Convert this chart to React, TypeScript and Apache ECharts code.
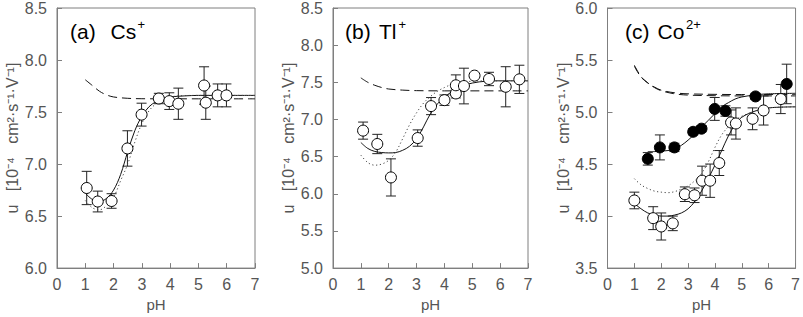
import React, { useEffect, useRef } from "react";
import * as echarts from "echarts";

// ---------- Panel (a) Cs+ ----------
const aPH = [1.05, 1.44, 1.93, 2.49, 2.99, 3.6, 3.97, 4.29, 5.2, 5.26, 5.68, 5.99];
const aU = [6.77, 6.64, 6.645, 7.15, 7.475, 7.63, 7.605, 7.58, 7.755, 7.59, 7.66, 7.66];
const aErr = [0.16, 0.1, 0.07, 0.17, 0.11, 0.05, 0.08, 0.15, 0.18, 0.16, 0.11, 0.11];
const aFitX = [1.0, 1.25, 1.5, 1.75, 2.0, 2.25, 2.5, 2.75, 3.0, 3.25, 3.5, 3.75, 4.0, 4.5, 5.0, 6.0, 7.0];
const aSolid = [6.72, 6.66, 6.64, 6.67, 6.75, 6.9, 7.12, 7.32, 7.46, 7.55, 7.6, 7.63, 7.645, 7.655, 7.66, 7.66, 7.66];
const aDotted = [6.65, 6.58, 6.56, 6.6, 6.68, 6.84, 7.0, 7.21, 7.39, 7.51, 7.58, 7.62, 7.645, 7.658, 7.66, 7.66, 7.66];
const aDashX = [1.0, 1.25, 1.5, 1.75, 2.0, 2.5, 3.0, 4.0, 5.0, 7.0];
const aDashed = [7.81, 7.755, 7.7, 7.665, 7.645, 7.632, 7.628, 7.627, 7.627, 7.627];

// ---------- Panel (b) Tl+ ----------
const bPH = [1.08, 1.59, 2.08, 3.04, 3.52, 4.0, 4.41, 4.41, 4.7, 5.08, 5.6, 6.2, 6.69];
const bU = [6.85, 6.67, 6.22, 6.75, 7.18, 7.26, 7.35, 7.46, 7.45, 7.59, 7.545, 7.44, 7.54];
const bErr = [0.115, 0.13, 0.25, 0.11, 0.115, 0.07, 0.06, 0.14, 0.24, 0.02, 0.09, 0.27, 0.19];
const bFitX = [1.0, 1.25, 1.5, 1.75, 2.0, 2.25, 2.5, 2.75, 3.0, 3.25, 3.5, 3.75, 4.0, 4.25, 4.5, 5.0, 5.5, 6.0, 7.0];
const bSolid = [6.69, 6.61, 6.57, 6.555, 6.55, 6.555, 6.585, 6.64, 6.74, 6.9, 7.08, 7.21, 7.3, 7.37, 7.43, 7.49, 7.515, 7.52, 7.52];
const bDotted = [6.52, 6.42, 6.385, 6.4, 6.45, 6.56, 6.74, 6.93, 7.09, 7.22, 7.31, 7.38, 7.43, 7.47, 7.495, 7.515, 7.52, 7.52, 7.52];
const bDashX = [1.0, 1.25, 1.5, 1.75, 2.0, 2.5, 3.0, 4.0, 7.0];
const bDashed = [7.56, 7.5, 7.46, 7.43, 7.41, 7.395, 7.388, 7.385, 7.385];

// ---------- Panel (c) Co2+ ----------
const cFilledPH = [1.5, 1.95, 2.49, 3.19, 3.5, 3.99, 4.39, 5.51, 6.67];
const cFilledU = [4.55, 4.66, 4.66, 4.81, 4.84, 5.03, 5.01, 5.15, 5.27];
const cFilledErr = [0.06, 0.12, 0.04, 0.03, 0.03, 0.11, 0.05, 0.03, 0.19];
const cOpenPH = [1.0, 1.7, 2.0, 2.43, 2.88, 3.24, 3.52, 3.82, 4.16, 4.6, 4.78, 5.4, 5.81, 6.45];
const cOpenU = [4.15, 3.98, 3.9, 3.93, 4.21, 4.2, 4.34, 4.34, 4.51, 4.9, 4.89, 4.935, 5.015, 5.125];
const cOpenErr = [0.08, 0.11, 0.13, 0.07, 0.07, 0.07, 0.14, 0.16, 0.12, 0.12, 0.15, 0.105, 0.14, 0.14];
const cFitX = [1.0, 1.25, 1.5, 1.75, 2.0, 2.25, 2.5, 2.75, 3.0, 3.25, 3.5, 3.75, 4.0, 4.25, 4.5, 4.75, 5.0, 5.5, 6.0, 7.0];
const cSolidLow = [4.12, 4.07, 4.03, 4.01, 4.0, 4.0, 4.01, 4.03, 4.07, 4.14, 4.24, 4.36, 4.49, 4.63, 4.77, 4.88, 4.95, 5.01, 5.04, 5.05];
const cDottedLow = [4.36, 4.3, 4.265, 4.24, 4.23, 4.225, 4.235, 4.26, 4.29, 4.34, 4.41, 4.52, 4.66, 4.78, 4.86, 4.92, 4.96, 5.01, 5.04, 5.05];
const cUpX = [1.5, 1.75, 2.0, 2.25, 2.5, 2.75, 3.0, 3.25, 3.5, 3.75, 4.0, 4.25, 4.5, 4.75, 5.0, 5.5, 6.0, 7.0];
const cSolidUp = [4.62, 4.62, 4.625, 4.63, 4.645, 4.68, 4.73, 4.79, 4.855, 4.92, 4.985, 5.05, 5.09, 5.125, 5.145, 5.165, 5.175, 5.18];
const cDashX = [1.0, 1.25, 1.5, 1.75, 2.0, 2.5, 3.0, 4.0, 5.0, 7.0];
const cDashed1 = [5.45, 5.34, 5.28, 5.235, 5.205, 5.175, 5.163, 5.157, 5.155, 5.155];
const cDashed2 = [5.44, 5.335, 5.28, 5.24, 5.21, 5.185, 5.175, 5.17, 5.168, 5.168];

// ---------- axes ----------
const xTicks = { min: 0, max: 7, interval: 1 };
const yRanges = [
  { min: 6.0, max: 8.5, interval: 0.5 },
  { min: 5.0, max: 8.5, interval: 0.5 },
  { min: 3.5, max: 6.0, interval: 0.5 },
];
const yName = "u   [10⁻⁴   cm²·s⁻¹·V⁻¹]";
const xName = "pH";
const titles = [
  { main: "(a)", ion: "Cs", sup: "+" },
  { main: "(b)", ion: "Tl", sup: "+" },
  { main: "(c)", ion: "Co", sup: "2+" },
];

const FONT = "'Liberation Sans', Arial, Helvetica, sans-serif";
const AXIS_COLOR = "#7f7f7f";
const LABEL_COLOR = "#555";

const pairs = (xs: number[], ys: number[]) => xs.map((x, i) => [x, ys[i]]);
const triples = (xs: number[], ys: number[], es: number[]) => xs.map((x, i) => [x, ys[i], es[i]]);

export default function App() {
  const ref = useRef<HTMLDivElement>(null);
  useEffect(() => {
    document.body.style.margin = "0";
    if (!ref.current) return;
    const chart = echarts.init(ref.current, undefined, { renderer: "svg" });

    const grids = [
      { left: 57, top: 7, width: 198, height: 268 },
      { left: 333, top: 7, width: 195, height: 268 },
      { left: 607.5, top: 7, width: 192.5, height: 268 },
    ].map((g) => ({ ...g, show: true, borderColor: AXIS_COLOR, borderWidth: 1, backgroundColor: "transparent" }));

    const xAxis = [0, 1, 2].map((i) => ({
      gridIndex: i,
      type: "value",
      ...xTicks,
      name: xName,
      nameLocation: "middle",
      nameGap: 27,
      nameTextStyle: { fontSize: 15, color: LABEL_COLOR, fontFamily: FONT },
      axisLine: { show: true, lineStyle: { color: AXIS_COLOR } },
      axisTick: { show: true, inside: true, length: 5, lineStyle: { color: AXIS_COLOR } },
      axisLabel: { fontSize: 16, color: LABEL_COLOR, margin: 8, fontFamily: FONT },
      splitLine: { show: false },
    }));

    const yAxis = [0, 1, 2].map((i) => ({
      gridIndex: i,
      type: "value",
      ...yRanges[i],
      name: yName,
      nameLocation: "middle",
      nameGap: 35,
      nameTextStyle: { fontSize: 16, color: LABEL_COLOR, fontFamily: FONT },
      axisLine: { show: true, lineStyle: { color: AXIS_COLOR } },
      axisTick: { show: true, inside: true, length: 5, lineStyle: { color: AXIS_COLOR } },
      axisLabel: {
        fontSize: 16,
        color: LABEL_COLOR,
        margin: 10,
        fontFamily: FONT,
        formatter: (v: number) => v.toFixed(1),
      },
      splitLine: { show: false },
    }));

    const errStyle = { stroke: "#222", lineWidth: 1 };
    const errBars = (i: number, data: number[][]) => ({
      type: "custom",
      xAxisIndex: i,
      yAxisIndex: i,
      z: 2,
      silent: true,
      data,
      encode: { x: 0, y: 1 },
      renderItem: (_p: any, api: any) => {
        const x = api.value(0);
        const y = api.value(1);
        const e = api.value(2);
        const t = api.coord([x, y + e]);
        const b = api.coord([x, y - e]);
        const hw = 5;
        return {
          type: "group",
          children: [
            { type: "line", shape: { x1: t[0], y1: t[1], x2: b[0], y2: b[1] }, style: errStyle },
            { type: "line", shape: { x1: t[0] - hw, y1: t[1], x2: t[0] + hw, y2: t[1] }, style: errStyle },
            { type: "line", shape: { x1: b[0] - hw, y1: b[1], x2: b[0] + hw, y2: b[1] }, style: errStyle },
          ],
        };
      },
    });

    const curve = (i: number, data: number[][], kind: "solid" | "dotted" | "dashed") => ({
      type: "line",
      xAxisIndex: i,
      yAxisIndex: i,
      data,
      symbol: "none",
      showSymbol: false,
      smooth: 0.35,
      silent: true,
      z: 3,
      lineStyle: {
        color: kind === "dotted" ? "#444" : "#111",
        width: 1,
        type: kind === "solid" ? "solid" : kind === "dotted" ? [1.2, 2.6] : [9, 5],
      },
    });

    const points = (i: number, data: number[][], filled: boolean) => ({
      type: "scatter",
      xAxisIndex: i,
      yAxisIndex: i,
      data,
      symbol: "circle",
      symbolSize: 11,
      silent: true,
      z: 4,
      itemStyle: { color: filled ? "#000" : "#fff", borderColor: "#000", borderWidth: 1, opacity: 1 },
    });

    const series: any[] = [
      errBars(0, triples(aPH, aU, aErr)),
      curve(0, pairs(aFitX, aSolid), "solid"),
      curve(0, pairs(aFitX, aDotted), "dotted"),
      curve(0, pairs(aDashX, aDashed), "dashed"),
      points(0, pairs(aPH, aU), false),

      errBars(1, triples(bPH, bU, bErr)),
      curve(1, pairs(bFitX, bSolid), "solid"),
      curve(1, pairs(bFitX, bDotted), "dotted"),
      curve(1, pairs(bDashX, bDashed), "dashed"),
      points(1, pairs(bPH, bU), false),

      errBars(2, triples(cFilledPH, cFilledU, cFilledErr)),
      errBars(2, triples(cOpenPH, cOpenU, cOpenErr)),
      curve(2, pairs(cUpX, cSolidUp), "solid"),
      curve(2, pairs(cFitX, cSolidLow), "solid"),
      curve(2, pairs(cFitX, cDottedLow), "dotted"),
      curve(2, pairs(cDashX, cDashed1), "dashed"),
      curve(2, pairs(cDashX, cDashed2), "dashed"),
      points(2, pairs(cOpenPH, cOpenU), false),
      points(2, pairs(cFilledPH, cFilledU), true),
    ];

    const titlePos = [
      { x: 70, ionX: 110.5, supX: 137.5 },
      { x: 345, ionX: 379, supX: 398.5 },
      { x: 625, ionX: 657.5, supX: 686 },
    ];
    const graphic: any[] = [];
    titles.forEach((t, i) => {
      const p = titlePos[i];
      graphic.push({
        type: "text",
        x: p.x,
        y: 42,
        silent: true,
        style: { text: t.main, font: `21px ${FONT}`, fill: "#000", verticalAlign: "bottom" },
      });
      graphic.push({
        type: "text",
        x: p.ionX,
        y: 42,
        silent: true,
        style: { text: t.ion, font: `21px ${FONT}`, fill: "#000", verticalAlign: "bottom" },
      });
      graphic.push({
        type: "text",
        x: p.supX,
        y: 18,
        silent: true,
        style: { text: t.sup, font: `13px ${FONT}`, fill: "#000", verticalAlign: "top" },
      });
    });

    chart.setOption({
      animation: false,
      backgroundColor: "#fff",
      grid: grids,
      xAxis,
      yAxis,
      series,
      graphic,
    } as any);

    return () => chart.dispose();
  }, []);

  return (
    <div
      ref={ref}
      style={{ position: "absolute", left: 0, top: 0, width: 803, height: 317 }}
    />
  );
}
